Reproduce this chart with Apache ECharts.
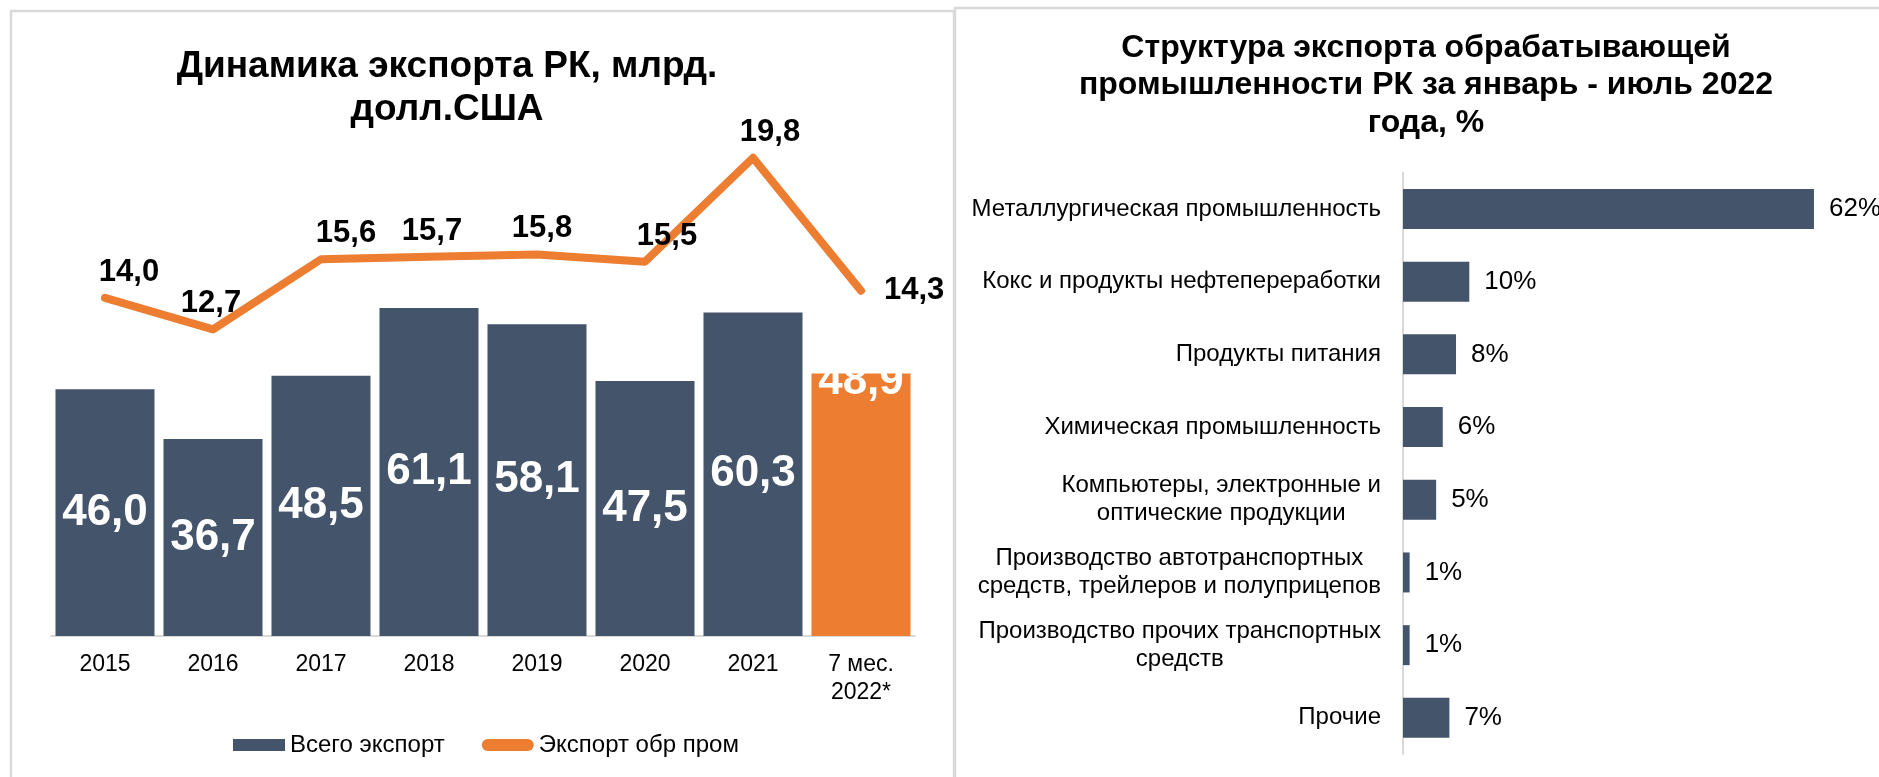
<!DOCTYPE html>
<html>
<head>
<meta charset="utf-8">
<title>Экспорт РК</title>
<script src="https://cdn.jsdelivr.net/npm/echarts@6/dist/echarts.min.js"></script>
<style>
  html, body { margin: 0; padding: 0; background: #fff; }
  #chart { width: 1879px; height: 777px; }
</style>
</head>
<body>
<div id="chart"></div>
<script>
// левый график
var years = ['2015', '2016', '2017', '2018', '2019', '2020', '2021', '7 мес.\n2022*']
var totalExport = [46.0, 36.7, 48.5, 61.1, 58.1, 47.5, 60.3, 48.9]
var manufExport = [14.0, 12.7, 15.6, 15.7, 15.8, 15.5, 19.8, 14.3]

// правый график
var sectors = [
  'Металлургическая промышленность',
  'Кокс и продукты нефтепереработки',
  'Продукты питания',
  'Химическая промышленность',
  'Компьютеры, электронные и\nоптические продукции',
  'Производство автотранспортных\nсредств, трейлеров и полуприцепов',
  'Производство прочих транспортных\nсредств',
  'Прочие'
]
var sectorShare = [62, 10, 8, 6, 5, 1, 1, 7]

var FONT = '"Liberation Sans", Arial, sans-serif'
var DARK = '#44546A'
var ORANGE = '#ED7D31'

// сдвиг подписей линии по x (как в оригинале)
var lineLabelShift = [24, -2, 25, 3, 5, 22, 17, 0]

function fmt (v) {
  return v.toFixed(1).replace('.', ',')
}

function buildBars () {
  return totalExport.map(function (v, i) {
    if (i === totalExport.length - 1) {
      return {
        value: v,
        itemStyle: { color: ORANGE },
        label: { position: 'insideTop', distance: 0, offset: [0, -14] }
      }
    }
    return v
  })
}

function buildLine () {
  return manufExport.map(function (v, i) {
    if (i === manufExport.length - 1) {
      return { value: v, label: { position: 'right', distance: 23 } }
    }
    return { value: v, label: { offset: [lineLabelShift[i], 0] } }
  })
}

window.onload = function () {
  var chart = echarts.init(document.getElementById('chart'))

  var option = {
    animation: false,
    textStyle: { fontFamily: FONT },
    title: [
      {
        text: 'Динамика экспорта РК, млрд.\nдолл.США',
        left: 447,
        top: 45,
        padding: 0,
        textAlign: 'center',
        textStyle: { fontFamily: FONT, fontSize: 37, fontWeight: 'bold', color: '#000', lineHeight: 43 }
      },
      {
        text: 'Структура экспорта обрабатывающей\nпромышленности РК за январь - июль 2022\nгода, %',
        left: 1426,
        top: 29,
        padding: 0,
        textAlign: 'center',
        textStyle: { fontFamily: FONT, fontSize: 32, fontWeight: 'bold', color: '#000', lineHeight: 37.5 }
      }
    ],
    legend: {
      left: 233,
      top: 733,
      padding: 0,
      itemWidth: 52,
      itemHeight: 12,
      itemGap: 37,
      textStyle: { fontFamily: FONT, fontSize: 24, color: '#000' },
      data: [
        { name: 'Всего экспорт', icon: 'rect', itemStyle: { color: DARK } },
        { name: 'Экспорт обр пром', icon: 'path://M6,0 L46,0 A6,6 0 0 1 46,12 L6,12 A6,6 0 0 1 6,0 Z', itemStyle: { color: ORANGE } }
      ]
    },
    graphic: [
      {
        type: 'rect',
        shape: { x: 11, y: 11, width: 943, height: 800 },
        style: { fill: 'none', stroke: '#D9D9D9', lineWidth: 2.5 },
        silent: true
      },
      {
        type: 'rect',
        shape: { x: 955, y: 8, width: 1000, height: 800 },
        style: { fill: 'none', stroke: '#D9D9D9', lineWidth: 2.5 },
        silent: true
      }
    ],
    grid: [
      { left: 51, top: 153, width: 864, height: 483, containLabel: false },
      { left: 1403, top: 172.6, width: 464, height: 581.6, containLabel: false }
    ],
    xAxis: [
      {
        type: 'category',
        gridIndex: 0,
        data: years,
        axisTick: { show: false },
        axisLine: { lineStyle: { color: '#D9D9D9', width: 2 } },
        axisLabel: { fontFamily: FONT, fontSize: 23, color: '#000', margin: 15, lineHeight: 28, interval: 0 }
      },
      {
        type: 'value',
        gridIndex: 1,
        min: 0,
        max: 70,
        show: false
      }
    ],
    yAxis: [
      { type: 'value', gridIndex: 0, min: 0, max: 90, show: false },
      { type: 'value', gridIndex: 0, min: 0, max: 20, show: false },
      {
        type: 'category',
        gridIndex: 1,
        inverse: true,
        data: sectors,
        axisTick: { show: false },
        axisLine: { lineStyle: { color: '#D9D9D9', width: 2 } },
        axisLabel: {
          interval: 0,
          margin: 22,
          fontFamily: FONT,
          fontSize: 24,
          color: '#000',
          formatter: function (v) {
            return v.split('\n').map(function (s) { return '{c|' + s + '}' }).join('\n')
          },
          rich: {
            c: { align: 'center', fontFamily: FONT, fontSize: 24, color: '#000', lineHeight: 28 }
          }
        }
      }
    ],
    series: [
      {
        name: 'Всего экспорт',
        type: 'bar',
        xAxisIndex: 0,
        yAxisIndex: 0,
        data: buildBars(),
        barCategoryGap: '8.3%',
        itemStyle: { color: DARK },
        label: {
          show: true,
          position: 'inside',
          color: '#fff',
          fontFamily: FONT,
          fontSize: 44,
          fontWeight: 'bold',
          formatter: function (p) { return fmt(p.value) }
        },
        z: 2
      },
      {
        name: 'Экспорт обр пром',
        type: 'line',
        xAxisIndex: 0,
        yAxisIndex: 1,
        data: buildLine(),
        symbol: 'circle',
        symbolSize: 0,
        showSymbol: true,
        lineStyle: { color: ORANGE, width: 8, cap: 'round', join: 'round' },
        itemStyle: { color: ORANGE },
        label: {
          show: true,
          position: 'top',
          distance: 10,
          color: '#000',
          fontFamily: FONT,
          fontSize: 31,
          fontWeight: 'bold',
          formatter: function (p) { return fmt(p.value) }
        },
        z: 3
      },
      {
        name: 'Структура',
        type: 'bar',
        xAxisIndex: 1,
        yAxisIndex: 2,
        data: sectorShare,
        barCategoryGap: '45%',
        itemStyle: { color: DARK },
        label: {
          show: true,
          position: 'right',
          distance: 15,
          color: '#000',
          fontFamily: FONT,
          fontSize: 26,
          formatter: '{c}%'
        }
      }
    ]
  }

  chart.setOption(option)
}
</script>
</body>
</html>
